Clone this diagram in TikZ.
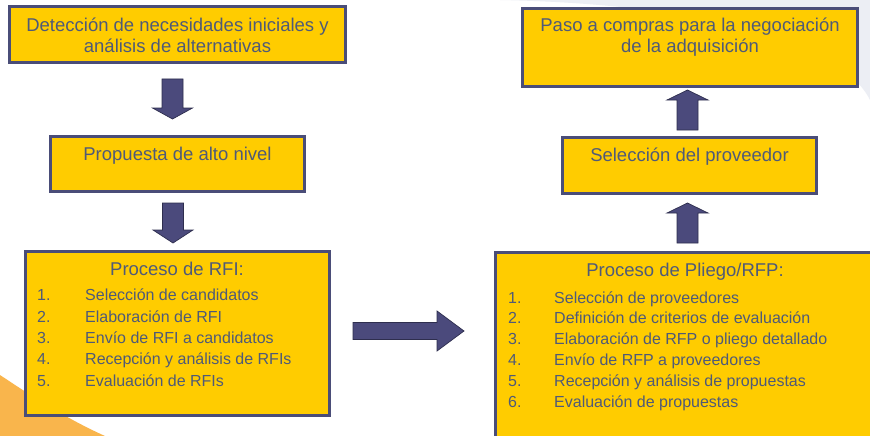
\documentclass[tikz,border=0pt]{standalone}
\usepackage{fontspec}
\setmainfont{Liberation Sans}
\usetikzlibrary{calc}
\definecolor{boxfill}{HTML}{FFCC00}
\definecolor{boxline}{HTML}{4A4D78}
\definecolor{arrfill}{HTML}{4B4A7C}
\definecolor{arrline}{HTML}{2E2E4E}
\definecolor{txt}{HTML}{4F5A78}
\definecolor{orangebg}{HTML}{F9B54C}
\definecolor{greybg}{HTML}{ECEEF4}
\newcommand{\mydownarrow}[5]{\draw[blockarrow] ($(#1)+(-#3,0)$) -- ($(#1)+(#3,0)$) -- ($(#2)+(#3,-#5)$) -- ($(#2)+(#4,-#5)$) -- (#2) -- ($(#2)+(-#4,-#5)$) -- ($(#2)+(-#3,-#5)$) -- cycle;}
\newcommand{\myuparrow}[5]{\draw[blockarrow] ($(#1)+(-#3,0)$) -- ($(#1)+(#3,0)$) -- ($(#2)+(#3,#5)$) -- ($(#2)+(#4,#5)$) -- (#2) -- ($(#2)+(-#4,#5)$) -- ($(#2)+(-#3,#5)$) -- cycle;}
\newcommand{\myrightarrow}[5]{\draw[blockarrow] ($(#1)+(0,-#3)$) -- ($(#1)+(0,#3)$) -- ($(#2)+(-#5,#3)$) -- ($(#2)+(-#5,#4)$) -- (#2) -- ($(#2)+(-#5,-#4)$) -- ($(#2)+(-#5,-#3)$) -- cycle;}
\begin{document}
\begin{tikzpicture}[x=1pt,y=-1pt,
 box/.style={draw=boxline, line width=3pt, fill=boxfill, rectangle, inner sep=0pt},
 boxtext/.style={text=txt, font=\fontsize{18.5}{21}\selectfont, align=center, anchor=base, inner sep=0pt},
 listtext/.style={text=txt, align=left, anchor=base west, inner sep=0pt},
 blockarrow/.style={fill=arrfill, draw=arrline, line width=0.7pt, line join=miter}]
\useasboundingbox (0,0) rectangle (870,436);
\clip (0,0) rectangle (870,436);
\fill[white] (0,0) rectangle (870,436);
% background swooshes
\fill[greybg] (500,0) .. controls (700,4) and (840,40) .. (870,100) -- (870,0) -- cycle;
\fill[orangebg] (0,375) .. controls (30,395) and (65,418) .. (105,436) -- (0,436) -- cycle;

% boxes
\node[box, minimum width=336pt, minimum height=56pt] (b1) at (177.5,34.5) {};
\node[box, minimum width=254pt, minimum height=55pt] (b2) at (177.5,164) {};
\node[box, minimum width=304pt, minimum height=164pt] (b3) at (177.5,333.5) {};
\node[box, minimum width=335pt, minimum height=78pt] (b4) at (690,47.5) {};
\node[box, minimum width=254pt, minimum height=56pt] (b5) at (689.5,165.5) {};
\node[box, minimum width=388pt, minimum height=206pt] (b6) at (689.5,355.5) {};

% texts (base anchor = baseline of the last line)
\node[boxtext] (t1) at (177.5,53) {Detección de necesidades iniciales y\\análisis de alternativas};
\node[boxtext] (t2) at (177.5,160) {Propuesta de alto nivel};
\node[boxtext] (t3) at (177,275) {Proceso de RFI:};
\node[listtext, font=\fontsize{16}{21.3}\selectfont] (l3) at (37,386) {\makebox[48pt][l]{1.}Selección de candidatos\\
\makebox[48pt][l]{2.}Elaboración de RFI\\
\makebox[48pt][l]{3.}Envío de RFI a candidatos\\
\makebox[48pt][l]{4.}Recepción y análisis de RFIs\\
\makebox[48pt][l]{5.}Evaluación de RFIs};
\node[boxtext] (t4) at (690,53) {Paso a compras para la negociación\\de la adquisición};
\node[boxtext] (t5) at (689.5,161) {Selección del proveedor};
\node[boxtext] (t6) at (685,276) {Proceso de Pliego/RFP:};
\node[listtext, font=\fontsize{16}{20.8}\selectfont] (l6) at (508,407) {\makebox[46pt][l]{1.}Selección de proveedores\\
\makebox[46pt][l]{2.}Definición de criterios de evaluación\\
\makebox[46pt][l]{3.}Elaboración de RFP o pliego detallado\\
\makebox[46pt][l]{4.}Envío de RFP a proveedores\\
\makebox[46pt][l]{5.}Recepción y análisis de propuestas\\
\makebox[46pt][l]{6.}Evaluación de propuestas};

% arrow end points
\coordinate (d1s) at ($(b1.south)+(-5,15)$);
\coordinate (d1t) at ($(b2.north)+(-5,-16)$);
\coordinate (d2s) at ($(b2.south)+(-4.5,10)$);
\coordinate (d2t) at ($(b3.north)+(-4.5,-7)$);
\coordinate (rs) at ($(b3.east)+(22,-2.5)$);
\coordinate (rt) at ($(b6.west)+(-30,-24.5)$);
\coordinate (u1s) at ($(b6.north)+(-2,-8)$);
\coordinate (u1t) at ($(b5.south)+(-2,8)$);
\coordinate (u2s) at ($(b5.north)+(-2,-6)$);
\coordinate (u2t) at ($(b4.south)+(-2.5,2)$);

\mydownarrow{d1s}{d1t}{10.5}{20}{11}
\mydownarrow{d2s}{d2t}{10.5}{20}{13}
\myrightarrow{rs}{rt}{8.5}{20}{27}
\myuparrow{u1s}{u1t}{10.5}{20.5}{10}
\myuparrow{u2s}{u2t}{10.5}{20.5}{10}
\end{tikzpicture}
\end{document}
